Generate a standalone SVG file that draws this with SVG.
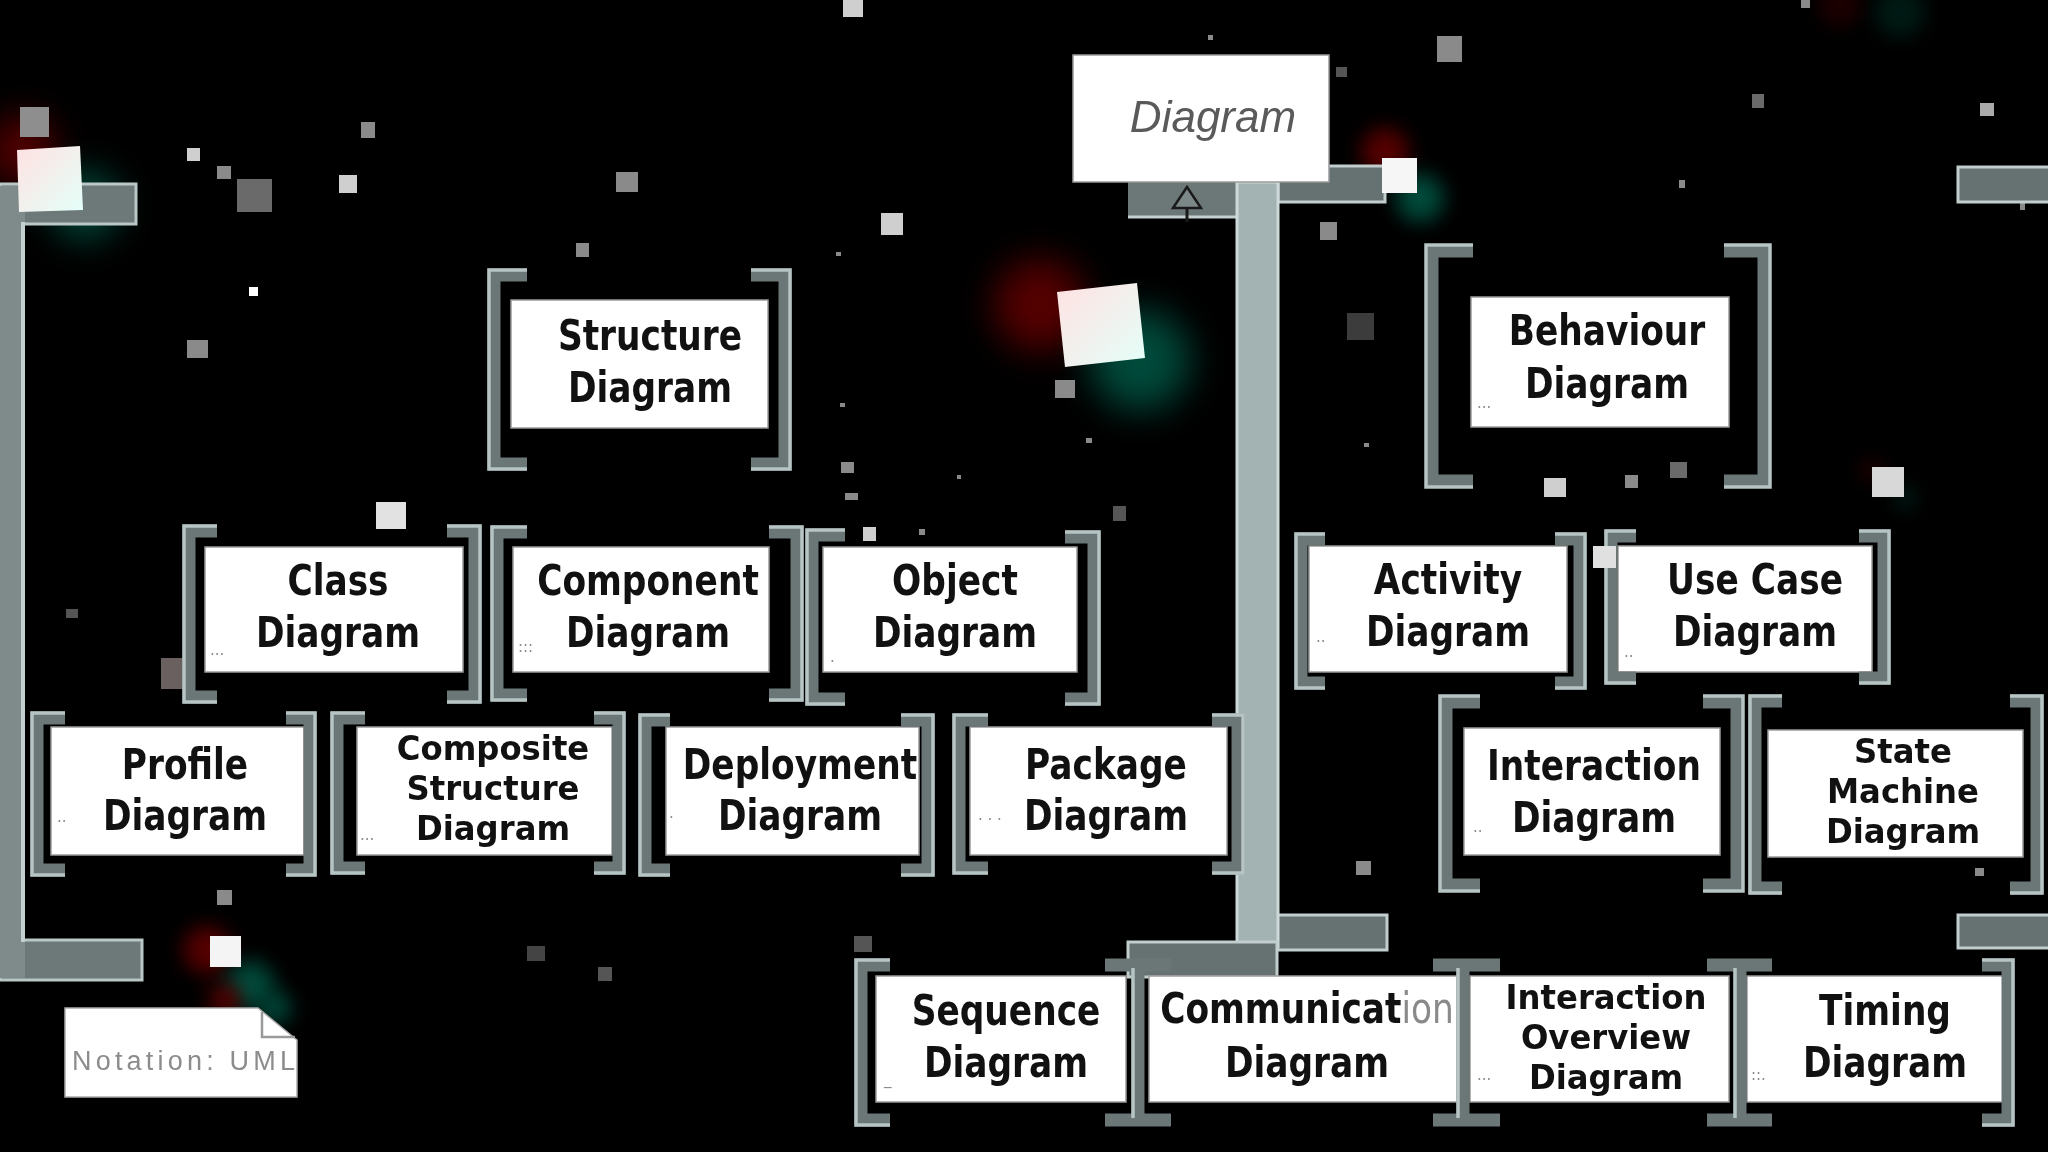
<svg xmlns="http://www.w3.org/2000/svg" width="2048" height="1152" viewBox="0 0 2048 1152">
<style>
.box{fill:#fff;stroke:#9a9a9a;stroke-width:1.5}
.lbl{font-family:"DejaVu Sans","Liberation Sans",sans-serif;font-weight:bold;font-size:43px;fill:#111;text-anchor:middle}
.lbl3{font-size:34px}
.dots{font-family:"DejaVu Sans",sans-serif;font-size:15px;fill:#8a8a8a}
.br{fill:none;stroke:#6b7777;stroke-width:13;stroke-linejoin:miter}
.brh{fill:none;stroke:#b6c4c4;stroke-width:3.5}
.arm{fill:#667171;stroke:#c2cece;stroke-width:3}
.red{fill:#7a0606}
.teal{fill:#006a55}
.spk{fill:#8a8a8a}
.spl{fill:#cfcfcf}
</style>
<defs>
<filter id="blur" x="-100%" y="-100%" width="300%" height="300%"><feGaussianBlur stdDeviation="18"/></filter>
<filter id="blur2" x="-100%" y="-100%" width="300%" height="300%"><feGaussianBlur stdDeviation="10"/></filter>
<linearGradient id="sq" x1="0" y1="0" x2="1" y2="1"><stop offset="0" stop-color="#ffe2e2"/><stop offset="1" stop-color="#e4fff9"/></linearGradient>
<clipPath id="noteclip"><rect x="65" y="1008" width="232" height="89"/></clipPath>
</defs>
<rect width="2048" height="1152" fill="#000"/>

<g id="glows" opacity="0.7">
  <circle cx="1040" cy="305" r="46" class="red" filter="url(#blur)"/>
  <circle cx="1140" cy="360" r="50" class="teal" filter="url(#blur)"/>
  <circle cx="22" cy="150" r="34" class="red" filter="url(#blur)"/>
  <circle cx="85" cy="205" r="34" class="teal" filter="url(#blur)"/>
  <circle cx="1385" cy="152" r="24" class="red" filter="url(#blur2)"/>
  <circle cx="1420" cy="198" r="24" class="teal" filter="url(#blur2)"/>
  <circle cx="207" cy="950" r="24" class="red" filter="url(#blur2)"/>
  <circle cx="250" cy="985" r="24" class="teal" filter="url(#blur2)"/>
  <circle cx="225" cy="1000" r="16" class="red" filter="url(#blur2)"/>
  <circle cx="275" cy="1008" r="16" class="teal" filter="url(#blur2)"/>
  <circle cx="1840" cy="5" r="22" class="red" filter="url(#blur2)" opacity="0.35"/>
  <circle cx="1900" cy="12" r="26" class="teal" filter="url(#blur2)" opacity="0.35"/>
  <circle cx="1872" cy="470" r="12" class="red" filter="url(#blur2)" opacity="0.4"/>
  <circle cx="1905" cy="498" r="12" class="teal" filter="url(#blur2)" opacity="0.4"/>
</g>

<g id="specks">
  <rect x="20" y="107" width="29" height="30" fill="#8e8e8e"/>
  <rect x="237" y="179" width="35" height="33" fill="#6a6a6a"/>
  <rect x="187" y="148" width="13" height="13" class="spl"/>
  <rect x="217" y="166" width="14" height="13" class="spk"/>
  <rect x="339" y="175" width="18" height="18" class="spl"/>
  <rect x="361" y="122" width="14" height="16" class="spk"/>
  <rect x="616" y="172" width="22" height="20" class="spk"/>
  <rect x="576" y="243" width="13" height="14" class="spk"/>
  <rect x="249" y="287" width="9" height="9" fill="#fff"/>
  <rect x="187" y="340" width="21" height="18" class="spk"/>
  <rect x="843" y="0" width="20" height="17" class="spl"/>
  <rect x="881" y="213" width="22" height="22" class="spl"/>
  <rect x="1208" y="35" width="5" height="5" class="spk"/>
  <rect x="1336" y="67" width="11" height="10" fill="#555"/>
  <rect x="1320" y="222" width="17" height="18" class="spk"/>
  <rect x="1347" y="313" width="27" height="27" fill="#3c3c3c"/>
  <rect x="1055" y="380" width="20" height="18" class="spk"/>
  <rect x="836" y="252" width="5" height="4" class="spk"/>
  <rect x="840" y="403" width="5" height="4" class="spk"/>
  <rect x="1086" y="438" width="6" height="5" class="spk"/>
  <rect x="841" y="462" width="13" height="11" class="spk"/>
  <rect x="957" y="475" width="4" height="4" class="spk"/>
  <rect x="845" y="493" width="13" height="7" class="spk"/>
  <rect x="1364" y="443" width="5" height="4" class="spk"/>
  <rect x="1437" y="36" width="25" height="26" class="spk"/>
  <rect x="1752" y="94" width="12" height="14" fill="#6a6a6a"/>
  <rect x="1980" y="103" width="14" height="13" fill="#aaa"/>
  <rect x="1679" y="180" width="6" height="8" class="spk"/>
  <rect x="1801" y="0" width="9" height="8" class="spk"/>
  <rect x="1544" y="478" width="22" height="19" class="spl"/>
  <rect x="1625" y="475" width="13" height="13" class="spk"/>
  <rect x="1670" y="462" width="17" height="16" fill="#6a6a6a"/>
  <rect x="2020" y="202" width="5" height="8" class="spk"/>
  <rect x="66" y="609" width="12" height="9" fill="#555"/>
  <rect x="161" y="658" width="31" height="31" fill="#6b6060"/>
  <rect x="217" y="890" width="15" height="15" class="spk"/>
  <rect x="527" y="946" width="18" height="15" fill="#444"/>
  <rect x="598" y="967" width="14" height="14" fill="#555"/>
  <rect x="1113" y="506" width="13" height="15" fill="#555"/>
  <rect x="863" y="527" width="13" height="14" class="spl"/>
  <rect x="919" y="529" width="6" height="6" class="spk"/>
  <rect x="854" y="936" width="18" height="16" fill="#555"/>
  <rect x="1356" y="861" width="15" height="14" class="spk"/>
  <rect x="1975" y="868" width="9" height="8" class="spk"/>
  <rect x="376" y="502" width="30" height="27" fill="#e2e2e2"/>
</g>

<g id="connectors">
  <rect x="0" y="184" width="136" height="40" fill="#6d7878" stroke="#b9c7c7" stroke-width="3"/>
  <rect x="0" y="940" width="142" height="40" fill="#6d7878" stroke="#b9c7c7" stroke-width="3"/>
  <rect x="0" y="186" width="25" height="792" fill="#7f8b8b"/>
  <line x1="23" y1="222" x2="23" y2="942" stroke="#c4d0d0" stroke-width="4"/>
  <rect x="1958" y="167" width="92" height="35" class="arm"/>
  <rect x="1958" y="915" width="92" height="33" class="arm"/>
  <rect x="1278" y="166" width="107" height="36" class="arm"/>
  <rect x="1277" y="915" width="110" height="35" class="arm"/>
  <rect x="1128" y="182" width="109" height="36" fill="#6c7777"/>
  <line x1="1128" y1="217" x2="1237" y2="217" stroke="#c5d0d0" stroke-width="3"/>
  <rect x="1237" y="182" width="41" height="765" fill="#a3b2b2" stroke="#cdd9d9" stroke-width="3"/>
  <rect x="1128" y="942" width="149" height="35" class="arm"/>
  <polygon points="1187,187 1173,208 1201,208" fill="#7c8787" stroke="#1a1a1a" stroke-width="2.5"/>
  <line x1="1187" y1="208" x2="1187" y2="222" stroke="#1a1a1a" stroke-width="3"/>
</g>

<g id="bright-particles">
  <polygon points="1057,292 1137,283 1145,358 1065,367" fill="url(#sq)"/>
  <polygon points="17,150 80,146 83,210 19,212" fill="url(#sq)"/>
  <rect x="1382" y="158" width="35" height="35" fill="#f6f6f6"/>
  <rect x="210" y="936" width="31" height="31" fill="#f4f4f4"/>
  <rect x="1872" y="467" width="32" height="30" fill="#d8d8d8"/>
</g>

<g id="n-diagram">
  <rect class="box" x="1073" y="55" width="256" height="127"/>
  <text x="1213" y="132" font-family="Liberation Sans, Arial, sans-serif" font-style="italic" font-size="44" fill="#5a5a5a" text-anchor="middle">Diagram</text>
</g>

<g id="n-structure">
  <rect class="box" x="511" y="300" width="257" height="128"/>
  <text class="lbl" transform="translate(650 0) scale(0.8 1)"><tspan x="0" y="350">Structure</tspan><tspan x="0" y="402">Diagram</tspan></text>
  <path class="br" d="M527,275 H494 V464 H527 M751,275 H785 V464 H751"/>
  <path class="brh" d="M527,270 H489 V469 H527 M751,270 H790 V469 H751"/>
</g>

<g id="n-class">
  <rect class="box" x="205" y="547" width="258" height="125"/>
  <text class="lbl" transform="translate(338 0) scale(0.8 1)"><tspan x="0" y="595">Class</tspan><tspan x="0" y="647">Diagram</tspan></text>
  <text class="dots" x="210" y="655">...</text>
  <path class="br" d="M217,531 H189 V697 H217 M447,531 H475 V697 H447"/>
  <path class="brh" d="M217,526 H184 V702 H217 M447,526 H480 V702 H447"/>
</g>

<g id="n-component">
  <rect class="box" x="513" y="547" width="256" height="125"/>
  <text class="lbl" transform="translate(648 0) scale(0.8 1)"><tspan x="0" y="595">Component</tspan><tspan x="0" y="647">Diagram</tspan></text>
  <text class="dots" x="518" y="652">:::</text>
  <path class="br" d="M527,532 H497 V695 H527 M769,532 H797 V695 H769"/>
  <path class="brh" d="M527,527 H492 V700 H527 M769,527 H802 V700 H769"/>
</g>

<g id="n-object">
  <rect class="box" x="823" y="547" width="254" height="125"/>
  <text class="lbl" transform="translate(955 0) scale(0.8 1)"><tspan x="0" y="595">Object</tspan><tspan x="0" y="647">Diagram</tspan></text>
  <text class="dots" x="830" y="662">.</text>
  <path class="br" d="M845,535 H812 V699 H845 M1065,537 H1094 V699 H1065"/>
  <path class="brh" d="M845,530 H807 V704 H845 M1065,532 H1099 V704 H1065"/>
</g>

<g id="n-profile">
  <rect class="box" x="51" y="727" width="253" height="128"/>
  <text class="lbl" transform="translate(185 0) scale(0.8 1)"><tspan x="0" y="779">Profile</tspan><tspan x="0" y="830">Diagram</tspan></text>
  <text class="dots" x="57" y="822">..</text>
  <path class="br" d="M65,718 H37 V870 H65 M286,718 H310 V870 H286"/>
  <path class="brh" d="M65,713 H32 V875 H65 M286,713 H315 V875 H286"/>
</g>

<g id="n-composite">
  <rect class="box" x="357" y="727" width="255" height="128"/>
  <text class="lbl lbl3" transform="translate(493 0) scale(0.95 1)"><tspan x="0" y="760">Composite</tspan><tspan x="0" y="800">Structure</tspan><tspan x="0" y="840">Diagram</tspan></text>
  <text class="dots" x="360" y="840">...</text>
  <path class="br" d="M365,718 H337 V868 H365 M594,718 H619 V868 H594"/>
  <path class="brh" d="M365,713 H332 V873 H365 M594,713 H624 V873 H594"/>
</g>

<g id="n-deployment">
  <rect class="box" x="666" y="727" width="253" height="128"/>
  <text class="lbl" transform="translate(800 0) scale(0.8 1)"><tspan x="0" y="779">Deployment</tspan><tspan x="0" y="830">Diagram</tspan></text>
  <text class="dots" x="669" y="818">.</text>
  <path class="br" d="M670,720 H645 V870 H670 M901,720 H928 V870 H901"/>
  <path class="brh" d="M670,715 H640 V875 H670 M901,715 H933 V875 H901"/>
</g>

<g id="n-package">
  <rect class="box" x="970" y="727" width="257" height="128"/>
  <text class="lbl" transform="translate(1106 0) scale(0.8 1)"><tspan x="0" y="779">Package</tspan><tspan x="0" y="830">Diagram</tspan></text>
  <text class="dots" x="978" y="820">. . .</text>
  <path class="br" d="M988,720 H959 V868 H988 M1212,720 H1238 V868 H1212"/>
  <path class="brh" d="M988,715 H954 V873 H988 M1212,715 H1243 V873 H1212"/>
</g>

<g id="n-behaviour">
  <rect class="box" x="1471" y="297" width="258" height="130"/>
  <text class="lbl" transform="translate(1607 0) scale(0.8 1)"><tspan x="0" y="345">Behaviour</tspan><tspan x="0" y="398">Diagram</tspan></text>
  <text class="dots" x="1477" y="408">...</text>
  <path class="br" d="M1473,251 H1432 V481 H1473 M1724,251 H1764 V481 H1724" stroke-width="16"/>
  <path class="brh" d="M1473,245 H1426 V487 H1473 M1724,245 H1770 V487 H1724"/>
</g>

<g id="n-activity">
  <rect class="box" x="1309" y="546" width="258" height="126"/>
  <text class="lbl" transform="translate(1448 0) scale(0.8 1)"><tspan x="0" y="594">Activity</tspan><tspan x="0" y="646">Diagram</tspan></text>
  <text class="dots" x="1316" y="642">..</text>
  <path class="br" d="M1325,539 H1301 V683 H1325 M1555,539 H1580 V683 H1555"/>
  <path class="brh" d="M1325,534 H1296 V688 H1325 M1555,534 H1585 V688 H1555"/>
</g>

<g id="n-usecase">
  <rect class="box" x="1618" y="546" width="254" height="126"/>
  <text class="lbl" transform="translate(1755 0) scale(0.8 1)"><tspan x="0" y="594">Use Case</tspan><tspan x="0" y="646">Diagram</tspan></text>
  <text class="dots" x="1624" y="657">..</text>
  <path class="br" d="M1636,536 H1611 V678 H1636 M1859,536 H1884 V678 H1859"/>
  <path class="brh" d="M1636,531 H1606 V683 H1636 M1859,531 H1889 V683 H1859"/>
  <rect x="1593" y="546" width="23" height="22" fill="#e0e0e0"/>
</g>

<g id="n-interaction">
  <rect class="box" x="1464" y="728" width="256" height="127"/>
  <text class="lbl" transform="translate(1594 0) scale(0.8 1)"><tspan x="0" y="780">Interaction</tspan><tspan x="0" y="832">Diagram</tspan></text>
  <text class="dots" x="1473" y="832">..</text>
  <path class="br" d="M1480,702 H1446 V885 H1480 M1703,702 H1737 V885 H1703" stroke-width="16"/>
  <path class="brh" d="M1480,696 H1440 V891 H1480 M1703,696 H1743 V891 H1703"/>
</g>

<g id="n-statemachine">
  <rect class="box" x="1768" y="730" width="255" height="127"/>
  <text class="lbl lbl3" transform="translate(1903 0) scale(0.95 1)"><tspan x="0" y="763">State</tspan><tspan x="0" y="803">Machine</tspan><tspan x="0" y="843">Diagram</tspan></text>
  <path class="br" d="M1782,701 H1755 V888 H1782 M2010,701 H2037 V888 H2010"/>
  <path class="brh" d="M1782,696 H1750 V893 H1782 M2010,696 H2042 V893 H2010"/>
</g>

<g id="n-sequence">
  <rect class="box" x="876" y="976" width="250" height="126"/>
  <text class="lbl" transform="translate(1006 0) scale(0.8 1)"><tspan x="0" y="1025">Sequence</tspan><tspan x="0" y="1077">Diagram</tspan></text>
  <text class="dots" x="884" y="1084">_</text>
  <path class="br" d="M890,965 H861 V1120 H890"/>
  <path class="brh" d="M890,960 H856 V1125 H890"/>
</g>

<g id="n-communication">
  <rect class="box" x="1149" y="976" width="308" height="126"/>
  <text class="lbl" transform="translate(1307 0) scale(0.8 1)" font-size="40"><tspan x="0" y="1023">Communicat<tspan fill="#8a8a8a" font-weight="normal">ion</tspan></tspan><tspan x="0" y="1077" font-size="43">Diagram</tspan></text>
</g>

<g id="n-interactionoverview">
  <rect class="box" x="1470" y="976" width="259" height="126"/>
  <text class="lbl lbl3" transform="translate(1606 0) scale(0.95 1)"><tspan x="0" y="1009">Interaction</tspan><tspan x="0" y="1049">Overview</tspan><tspan x="0" y="1089">Diagram</tspan></text>
  <text class="dots" x="1477" y="1080">...</text>
</g>

<g id="n-timing">
  <rect class="box" x="1747" y="976" width="257" height="126"/>
  <text class="lbl" transform="translate(1885 0) scale(0.8 1)"><tspan x="0" y="1025">Timing</tspan><tspan x="0" y="1077">Diagram</tspan></text>
  <text class="dots" x="1751" y="1080">::.</text>
  <path class="br" d="M1982,965 H2008 V1120 H1982"/>
  <path class="brh" d="M1982,960 H2013 V1125 H1982"/>
</g>

<g id="shared-brackets">
  <path class="br" d="M1105,965 H1171 M1138,965 V1120 M1105,1120 H1171"/>
  <path class="brh" d="M1133,968 V1118"/>
  <path class="br" d="M1433,965 H1500 M1463,965 V1120 M1433,1120 H1500"/>
  <path class="brh" d="M1458,968 V1118"/>
  <path class="br" d="M1707,965 H1772 M1740,965 V1120 M1707,1120 H1772"/>
  <path class="brh" d="M1735,968 V1118"/>
</g>

<g id="n-notation">
  <path d="M65,1008 H258 L297,1040 V1097 H65 Z" fill="#fff" stroke="#aaa" stroke-width="1.5"/>
  <path d="M262,1012 V1037 H295" fill="none" stroke="#9a9a9a" stroke-width="2.5"/>
  <text x="72" y="1070" font-family="Liberation Sans, Arial, sans-serif" font-size="27" letter-spacing="4.2" fill="#8c8c8c" clip-path="url(#noteclip)">Notation: UML</text>
</g>
</svg>
